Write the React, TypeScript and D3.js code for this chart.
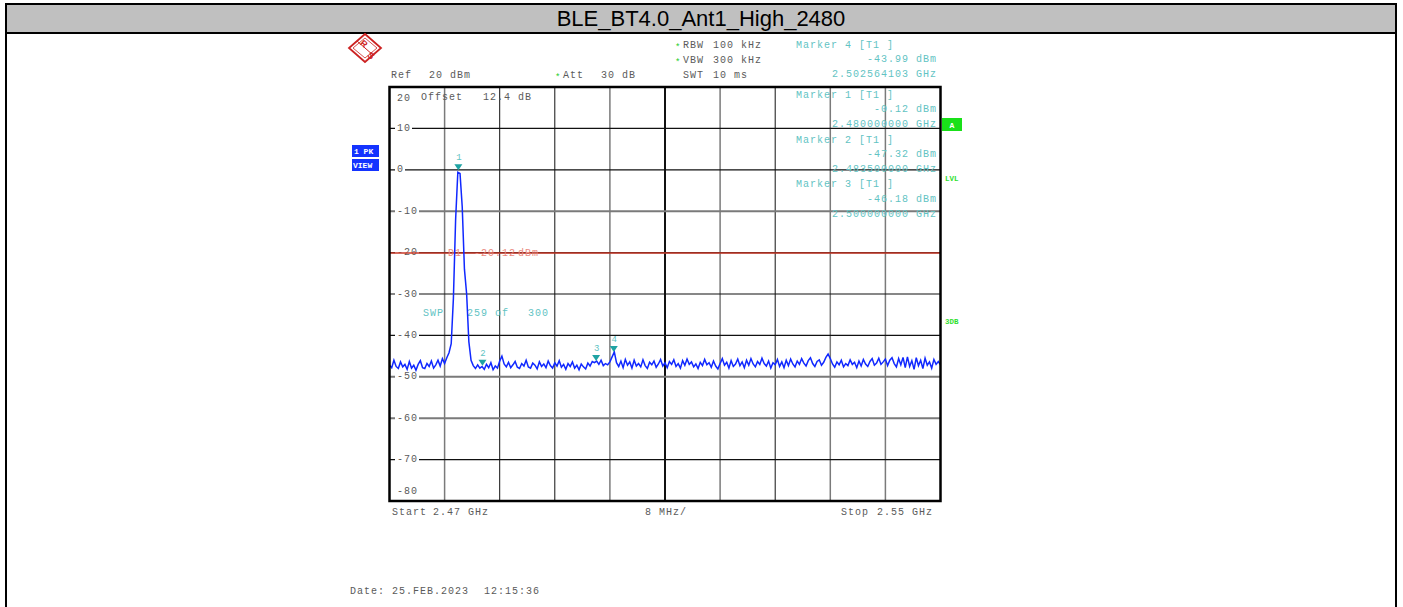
import * as d3 from "d3";

// ---- chart data ----
const title = "BLE_BT4.0_Ant1_High_2480";
const freqStart = 2.47; // GHz
const freqStop = 2.55; // GHz
const traceStep = 0.00032; // GHz between trace points
const refLevel = 20;
const bottomLevel = -80;
const levelTicks = [20, 10, 0, -10, -20, -30, -40, -50, -60, -70, -80];
const displayLine = -20.12;

// trace levels in dBm, one per traceStep starting at freqStart
const traceLevels = [
  -47.2, -47.8, -46.0, -47.5, -48.0, -46.4, -47.6, -47.0, -48.2, -46.3,
  -47.9, -47.2, -48.4, -47.0, -46.1, -47.8, -48.0, -46.8, -47.5, -46.2,
  -47.9, -47.1, -46.0, -47.4, -45.6, -46.8, -45.4, -44.2, -42.0, -31.0,
  -12.0, -0.6, -0.9, -9.0, -24.0, -30.0, -41.5, -46.0, -47.3, -48.0,
  -47.1, -47.9, -47.5, -48.2, -47.0, -47.8, -46.6, -48.3, -47.4, -47.9,
  -46.2, -45.0, -46.9, -47.6, -46.5, -47.8, -47.1, -46.3, -47.7, -48.0,
  -46.8, -47.4, -46.0, -47.6, -47.9, -46.7, -47.2, -48.1, -46.4, -47.5,
  -46.9, -47.8, -46.2, -47.3, -47.9, -46.6, -47.4, -46.1, -47.7, -47.0,
  -48.2, -46.8, -47.5, -46.4, -47.9, -47.2, -48.3, -46.9, -47.6, -48.1,
  -46.7, -47.4, -46.3, -46.6, -46.2, -47.0, -46.0, -47.3, -46.8, -47.1,
  -46.4, -45.2, -44.0, -46.6, -47.5, -46.2, -47.8, -45.8, -47.2, -46.4,
  -47.9, -46.0, -47.4, -46.8, -47.6, -45.9, -47.3, -48.0, -46.5, -47.1,
  -46.2, -47.7, -46.9, -45.8, -47.4, -46.6, -47.8, -46.3, -47.0, -45.9,
  -47.5, -46.8, -47.9, -46.1, -47.2, -45.7, -47.0, -46.4, -47.6, -46.9,
  -48.0, -46.5, -47.3, -45.8, -47.1, -46.6, -47.7, -46.2, -47.4, -48.1,
  -46.8, -45.6, -47.2, -46.5, -47.9, -46.1, -47.5, -46.9, -45.7, -47.3,
  -46.4, -47.8, -46.0, -47.2, -45.6, -46.9, -47.6, -46.3, -47.0, -45.5,
  -46.8, -47.4, -46.2, -47.9, -46.6, -47.1, -45.8, -47.5, -46.4, -47.8,
  -46.0, -47.3, -45.7, -46.9, -47.6, -46.2, -47.0, -45.6, -46.7, -47.4,
  -46.1, -45.4, -46.8, -47.5, -46.3, -45.9, -47.2, -46.5, -45.3, -44.5,
  -45.6, -46.9, -47.7, -46.4, -47.1, -46.0, -47.6, -46.8, -47.3, -45.9,
  -47.0, -46.5, -47.8, -46.2, -47.4, -45.8, -46.9, -47.5, -46.3, -45.6,
  -47.2, -46.7, -45.5, -47.0, -46.4, -45.7, -47.3, -46.0, -45.4, -46.8,
  -47.6, -45.6, -47.1, -45.3, -47.8, -45.2, -47.5, -46.1, -48.2, -45.4,
  -47.3, -46.0, -48.0, -45.5, -47.2, -46.4, -47.9, -45.8, -47.0, -46.3,
  -47.1,
];

const markerIds = [1, 2, 3, 4];
const markerFreqs = [2.48, 2.4835, 2.5, 2.502564103];
const markerLevels = [-0.12, -47.32, -46.18, -43.99];
// order in which the marker readouts are stacked at the top right
const markerBlockOrder = [4, 1, 2, 3];

// ---- layout ----
const W = 1403;
const H = 607;
const plot = { left: 389.5, right: 940.5, top: 87, bottom: 501 };
const mono = "'Liberation Mono', 'DejaVu Sans Mono', monospace";
const grey = "#5a5a5a";
const teal = "#62c3c3";
const markerTeal = "#1fa3a3";

const x = d3.scaleLinear().domain([freqStart, freqStop]).range([plot.left, plot.right]);
const y = d3.scaleLinear().domain([bottomLevel, refLevel]).range([plot.bottom, plot.top]);

const gridFreqs = d3.range(11).map((i) => freqStart + i * 0.008);
const greyV = [1, 4, 6, 8, 9];
const greyH = [-10, -50, -60];

const T = ({
  x,
  y,
  children,
  fill = grey,
  anchor = "start",
  size = 10,
  ls = 1,
  weight = "normal",
}: any) => (
  <text
    x={x}
    y={y}
    fontFamily={mono}
    fontSize={size}
    letterSpacing={ls}
    fill={fill}
    textAnchor={anchor}
    fontWeight={weight}
    dominantBaseline="central"
  >
    {children}
  </text>
);

// small green "modified setting" star
const Star = ({ x, y }: any) => (
  <text x={x} y={y + 3} fontFamily={mono} fontSize={9} fill="#22cc22" dominantBaseline="central">
    *
  </text>
);

export default function App() {
  const line = d3
    .line<number>()
    .x((_, i) => x(freqStart + i * traceStep))
    .y((d) => y(d));

  return (
    <svg
      width={W}
      height={H}
      style={{ position: "absolute", left: 0, top: 0, background: "#fff" }}
    >
      {/* outer frame + title bar */}
      <rect x={6} y={4} width={1390} height={29} fill="#c0c0c0" stroke="#000" strokeWidth={2} />
      <line x1={6} y1={4} x2={6} y2={H} stroke="#000" strokeWidth={2} />
      <line x1={1396} y1={4} x2={1396} y2={H} stroke="#000" strokeWidth={2} />
      <text
        x={701}
        y={26}
        textAnchor="middle"
        fontFamily="'Liberation Sans', Arial, sans-serif"
        fontSize={22}
        fill="#000"
      >
        {title}
      </text>

      {/* R&S logo */}
      <g transform="translate(365,48)" stroke="#cc2222" fill="none" strokeWidth={1.8}>
        <polygon points="0,-14 16,0 0,14 -16,0" />
        <polygon points="0,-10 12,0 0,10 -12,0" strokeWidth={0.8} />
        <line x1={-8} y1={-7} x2={8} y2={7} strokeWidth={1} />
        <text x={-3} y={-2} fontSize={9} fill="#cc2222" stroke="none" fontFamily="'Liberation Sans', Arial" fontWeight="bold" textAnchor="middle" transform="rotate(40,-3,-2)">R</text>
        <text x={4} y={10} fontSize={9} fill="#cc2222" stroke="none" fontFamily="'Liberation Sans', Arial" fontWeight="bold" textAnchor="middle" transform="rotate(40,4,10)">S</text>
      </g>

      {/* header settings */}
      <Star x={675} y={45} />
      <T x={683} y={45}>RBW</T>
      <T x={713} y={45}>100 kHz</T>
      <Star x={675} y={60} />
      <T x={683} y={60}>VBW</T>
      <T x={713} y={60}>300 kHz</T>
      <T x={391} y={75}>Ref</T>
      <T x={429} y={75}>20 dBm</T>
      <Star x={555} y={75} />
      <T x={563} y={75}>Att</T>
      <T x={601} y={75}>30 dB</T>
      <T x={683} y={75}>SWT</T>
      <T x={713} y={75}>10 ms</T>

      {/* grid */}
      {gridFreqs.slice(1, 10).map((f, i) => (
        <line
          key={"v" + i}
          x1={x(f)}
          x2={x(f)}
          y1={plot.top}
          y2={plot.bottom}
          stroke={greyV.includes(i + 1) ? "#7a7a7a" : "#111"}
          strokeWidth={i + 1 === 5 ? 2 : greyV.includes(i + 1) ? 1.5 : 1}
        />
      ))}
      {levelTicks.slice(1, 10).map((l) => (
        <line
          key={"h" + l}
          x1={plot.left}
          x2={plot.right}
          y1={y(l)}
          y2={y(l)}
          stroke={greyH.includes(l) ? "#7a7a7a" : "#111"}
          strokeWidth={greyH.includes(l) ? 2 : 1.2}
        />
      ))}

      {/* level labels */}
      {levelTicks.map((l) => {
        const ly = l === refLevel ? y(l) + 11 : l === bottomLevel ? y(l) - 10 : y(l);
        const label = String(l);
        return (
          <g key={"lab" + l}>
            {l !== refLevel && l !== bottomLevel && (
              <rect x={395} y={ly - 3} width={label.length * 7 + 3} height={6} fill="#fff" />
            )}
            <T x={397} y={ly}>{label}</T>
          </g>
        );
      })}

      {/* in-plot annotations */}
      <T x={421} y={97}>Offset</T>
      <T x={483} y={97}>12.4 dB</T>

      {/* display line D1 */}
      <line x1={plot.left} x2={plot.right} y1={y(displayLine)} y2={y(displayLine)} stroke="#c83a2a" strokeWidth={1.5} />
      <T x={448} y={y(displayLine)} fill="#e98a80">D1</T>
      <T x={474} y={y(displayLine)} fill="#e98a80">-20.12</T>
      <T x={518} y={y(displayLine)} fill="#e98a80">dBm</T>

      <T x={423} y={313} fill={teal}>SWP</T>
      <T x={467} y={313} fill={teal}>259 of</T>
      <T x={528} y={313} fill={teal}>300</T>

      {/* trace */}
      <path d={line(traceLevels) ?? ""} fill="none" stroke="#1028ff" strokeWidth={1.5} strokeLinejoin="miter" />

      {/* markers */}
      {markerIds.map((id, i) => {
        const mx = x(markerFreqs[i]);
        const my = y(markerLevels[i]);
        return (
          <g key={"m" + id}>
            <path d={`M${mx - 4},${my - 6}L${mx + 4},${my - 6}L${mx},${my}Z`} fill={markerTeal} />
            <T x={mx + 1} y={my - 12} fill={teal} anchor="middle" size={9}>{id}</T>
          </g>
        );
      })}

      {/* marker readouts */}
      {markerBlockOrder.map((id, k) => {
        const i = markerIds.indexOf(id);
        const top = [45, 95, 140, 184.5][k];
        return (
          <g key={"mb" + id}>
            <T x={796} y={top} fill={teal}>{`Marker ${id} [T1 ]`}</T>
            <T x={937} y={top + 14.8} fill={teal} anchor="end">{`${markerLevels[i].toFixed(2)} dBm`}</T>
            <T x={937} y={top + 29.6} fill={teal} anchor="end">{`${markerFreqs[i].toFixed(9)} GHz`}</T>
          </g>
        );
      })}

      {/* plot frame */}
      <rect
        x={plot.left}
        y={plot.top}
        width={plot.right - plot.left}
        height={plot.bottom - plot.top}
        fill="none"
        stroke="#000"
        strokeWidth={2.5}
      />

      {/* side indicators */}
      <rect x={352} y={145} width={27} height={12} fill="#1433ff" />
      <text x={354} y={154} fontFamily={mono} fontSize={8} fontWeight="bold" fill="#fff">1 PK</text>
      <rect x={352} y={159} width={27} height={12} fill="#1433ff" />
      <text x={353} y={168} fontFamily={mono} fontSize={8} fontWeight="bold" fill="#fff">VIEW</text>

      <rect x={942} y={118} width={20} height={13} fill="#19e019" />
      <text x={952} y={128} textAnchor="middle" fontFamily={mono} fontSize={8} fontWeight="bold" fill="#fff">A</text>
      <text x={945} y={181} fontFamily={mono} fontSize={7.5} fontWeight="bold" fill="#2ee02e">LVL</text>
      <text x={945} y={324} fontFamily={mono} fontSize={7.5} fontWeight="bold" fill="#2ee02e">3DB</text>

      {/* frequency axis annotation */}
      <T x={392} y={512}>Start</T>
      <T x={433} y={512}>2.47 GHz</T>
      <T x={645} y={512}>8 MHz/</T>
      <T x={841} y={512}>Stop</T>
      <T x={877} y={512}>2.55 GHz</T>

      <T x={350} y={591}>Date: 25.FEB.2023</T>
      <T x={484} y={591}>12:15:36</T>
    </svg>
  );
}
